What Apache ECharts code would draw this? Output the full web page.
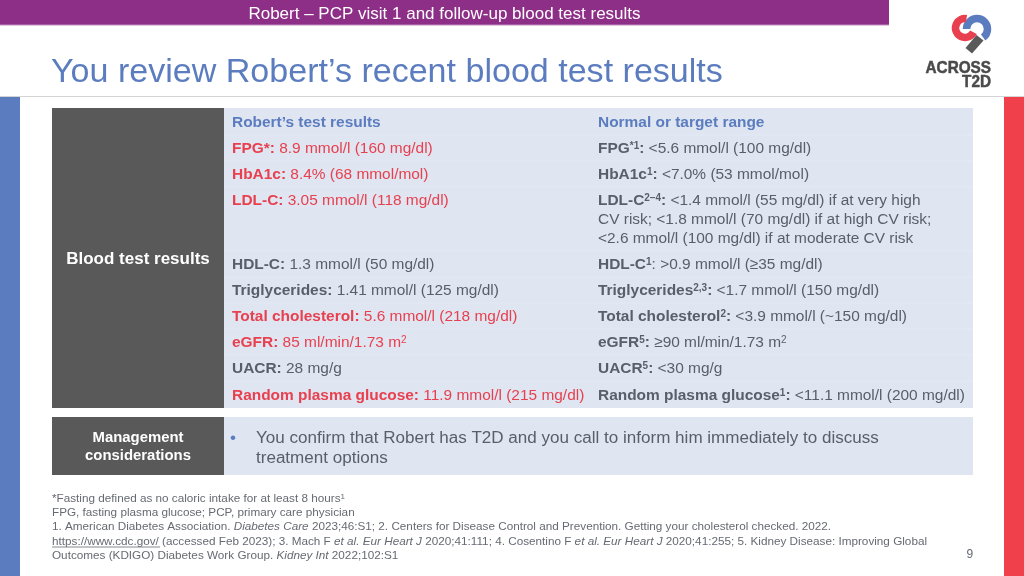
<!DOCTYPE html>
<html>
<head>
<meta charset="utf-8">
<title>Robert blood test results</title>
<script src="https://cdn.jsdelivr.net/npm/echarts@6/dist/echarts.min.js"></script>
<style>
  html, body { margin: 0; padding: 0; background: #fff; }
</style>
</head>
<body>
<div id="main" style="width:1024px;height:576px;"></div>
<script>
// table content, written with rich text tokens
var banner = 'Robert – PCP visit 1 and follow-up blood test results';
var heading = 'You review Robert’s recent blood test results';
var columnHeads = ['Robert’s test results', 'Normal or target range'];
var rowHead = 'Blood test results';
var results = [
  '{rb|FPG*:}{r| 8.9 mmol/l (160 mg/dl)}',
  '{rb|HbA1c:}{r| 8.4% (68 mmol/mol)}',
  '{rb|LDL-C:}{r| 3.05 mmol/l (118 mg/dl)}',
  '{gb|HDL-C:}{g| 1.3 mmol/l (50 mg/dl)}',
  '{gb|Triglycerides:}{g| 1.41 mmol/l (125 mg/dl)}',
  '{rb|Total cholesterol:}{r| 5.6 mmol/l (218 mg/dl)}',
  '{rb|eGFR:}{r| 85 ml/min/1.73 m}{rs|2}',
  '{gb|UACR:}{g| 28 mg/g}',
  '{rb|Random plasma glucose:}{r| 11.9 mmol/l (215 mg/dl)}'
];
var ranges = [
  '{gb|FPG}{gs|*1}{gb|:}{g| <5.6 mmol/l (100 mg/dl)}',
  '{gb|HbA1c}{gs|1}{gb|:}{g| <7.0% (53 mmol/mol)}',
  '{gb|LDL-C}{gs|2–4}{gb|:}{g| <1.4 mmol/l (55 mg/dl) if at very high}',
  '{gb|HDL-C}{gs|1}{g|: >0.9 mmol/l (≥35 mg/dl)}',
  '{gb|Triglycerides}{gs|2,3}{gb|:}{g| <1.7 mmol/l (150 mg/dl)}',
  '{gb|Total cholesterol}{gs|2}{gb|:}{g| <3.9 mmol/l (~150 mg/dl)}',
  '{gb|eGFR}{gs|5}{gb|:}{g| ≥90 ml/min/1.73 m}{gn|2}',
  '{gb|UACR}{gs|5}{gb|:}{g| <30 mg/g}',
  '{gb|Random plasma glucose}{gs|1}{gb|:}{g| <11.1 mmol/l (200 mg/dl)}'
];
var ldlExtra = ['CV risk; <1.8 mmol/l (70 mg/dl) if at high CV risk;', '<2.6 mmol/l (100 mg/dl) if at moderate CV risk'];
var manageHead = ['Management', 'considerations'];
var manageText = ['You confirm that Robert has T2D and you call to inform him immediately to discuss', 'treatment options'];
var notes = [
  '{f|*Fasting defined as no caloric intake for at least 8 hours}{fs|1}',
  '{f|FPG, fasting plasma glucose; PCP, primary care physician}',
  '{f|1. American Diabetes Association. }{fi|Diabetes Care}{f| 2023;46:S1; 2. Centers for Disease Control and Prevention. Getting your cholesterol checked. 2022.}',
  '{f|https://www.cdc.gov/ (accessed Feb 2023); 3. Mach F }{fi|et al. Eur Heart J}{f| 2020;41:111; 4. Cosentino F }{fi|et al. Eur Heart J}{f| 2020;41:255; 5. Kidney Disease: Improving Global}',
  '{f|Outcomes (KDIGO) Diabetes Work Group. }{fi|Kidney Int}{f| 2022;102:S1}'
];
var pageNumber = '9';

// layout
var rowY = [149, 175, 201, 265, 291, 317, 343, 369, 396];
var noteY = [499, 513, 527, 541.5, 556];
var FONT = '"Liberation Sans", Arial, sans-serif';
var BLUE = '#5b7cbf', RED = '#e8404f', GREY = '#595e69', PANEL = '#dfe6f2', DARK = '#595959';
var SIZE = 15.45, SUP = 10, NOTE = 11.73;

function tok(color, weight, size, extra) {
  var o = { fontFamily: FONT, fontSize: size, fill: color, color: color, fontWeight: weight };
  if (extra) for (var k in extra) o[k] = extra[k];
  return o;
}
var rich = {
  r: tok(RED, 'normal', SIZE),
  rb: tok(RED, 'bold', SIZE),
  rs: tok(RED, 'normal', SUP, { verticalAlign: 'top' }),
  g: tok(GREY, 'normal', SIZE),
  gb: tok(GREY, 'bold', SIZE),
  gs: tok(GREY, 'bold', SUP, { verticalAlign: 'top' }),
  gn: tok(GREY, 'normal', SUP, { verticalAlign: 'top' }),
  f: tok('#666a72', 'normal', NOTE),
  fi: tok('#666a72', 'normal', NOTE, { fontStyle: 'italic' }),
  fs: tok('#666a72', 'normal', 8, { verticalAlign: 'top' })
};

function rect(x, y, w, h, fill) {
  return { type: 'rect', shape: { x: x, y: y, width: w, height: h }, style: { fill: fill } };
}
function line(x1, y1, x2, y2, color, width) {
  return { type: 'line', shape: { x1: x1, y1: y1, x2: x2, y2: y2 }, style: { stroke: color, lineWidth: width } };
}
function label(x, y, str, size, color, weight, align) {
  return { type: 'text', x: x, y: y, style: {
    text: str, fontFamily: FONT, fontSize: size, fill: color, fontWeight: weight || 'normal',
    align: align || 'left', verticalAlign: 'middle'
  } };
}
function richLabel(x, y, str) {
  return { type: 'text', x: x, y: y, style: { text: str, rich: rich, fontFamily: FONT, fontSize: SIZE, align: 'left', verticalAlign: 'middle' } };
}
function arc(cx, cy, r, a0, a1, color, width) {
  return { type: 'arc', shape: { cx: cx, cy: cy, r: r, startAngle: a0, endAngle: a1, clockwise: true },
    style: { stroke: color, lineWidth: width, fill: null, lineCap: 'butt' } };
}
function logoWord(y, str) {
  var el = label(991, y, str, 17, '#4a4a4a', 'bold', 'right');
  el.style.stroke = '#4a4a4a';
  el.style.lineWidth = 0.5;
  el.scaleX = 0.9;
  return el;
}

var els = [];
// frame
els.push(rect(0, 0, 889, 25, '#8d2e87'));
els.push(line(0, 25, 889, 25, '#c08fbe', 1));
els.push(label(444.5, 14, banner, 17, '#fff', 'normal', 'center'));
els.push(label(51, 73, heading, 34.05, BLUE));
els.push(line(0, 96.5, 1024, 96.5, '#d4d4d4', 1));
els.push(rect(0, 97, 20, 479, BLUE));
els.push(rect(1004, 97, 20, 479, '#f0404c'));

// logo
els.push(arc(977, 29, 10.5, Math.PI, Math.PI * 2.3, BLUE, 7.5));
els.push(arc(965, 28, 9.5, Math.PI * 0.15, Math.PI * 1.55, RED, 7.5));
els.push({ type: 'polygon', shape: { points: [[976.5, 35], [983.5, 40.5], [972, 53.5], [965.5, 48]] }, style: { fill: DARK } });
els.push(logoWord(68, 'ACROSS'));
els.push(logoWord(82.5, 'T2D'));

// blood test panel
els.push(rect(52, 108, 172, 300, DARK));
els.push(rect(224, 108, 749, 300, PANEL));
[135, 161, 187, 251, 277, 303, 329, 355, 381].forEach(function (y) {
  els.push(line(224, y, 973, y, '#e3e9f4', 1));
});
els.push(label(138, 259, rowHead, 17, '#fff', 'bold', 'center'));
els.push(label(232, 123, columnHeads[0], SIZE, BLUE, 'bold'));
els.push(label(598, 123, columnHeads[1], SIZE, BLUE, 'bold'));
results.forEach(function (s, i) { els.push(richLabel(232, rowY[i], s)); });
ranges.forEach(function (s, i) { els.push(richLabel(598, rowY[i], s)); });
els.push(label(598, 220, ldlExtra[0], SIZE, GREY));
els.push(label(598, 238.5, ldlExtra[1], SIZE, GREY));

// management panel
els.push(rect(52, 417, 172, 58, DARK));
els.push(rect(224, 417, 749, 58, PANEL));
els.push(label(138, 438, manageHead[0], 14.9, '#fff', 'bold', 'center'));
els.push(label(138, 456, manageHead[1], 14.9, '#fff', 'bold', 'center'));
els.push(label(230, 438, '•', 17.06, BLUE));
els.push(label(256, 438, manageText[0], 17.06, GREY));
els.push(label(256, 458.5, manageText[1], 17.06, GREY));

// footnotes
notes.forEach(function (s, i) { els.push(richLabel(52, noteY[i], s)); });
els.push(line(52, 547, 160, 547, '#666a72', 0.8));
els.push(label(966.5, 555, pageNumber, 12, '#666a72'));

var myChart = echarts.init(document.getElementById('main'));
myChart.setOption({
  animation: false,
  backgroundColor: '#fff',
  graphic: { elements: els }
});
</script>
</body>
</html>
